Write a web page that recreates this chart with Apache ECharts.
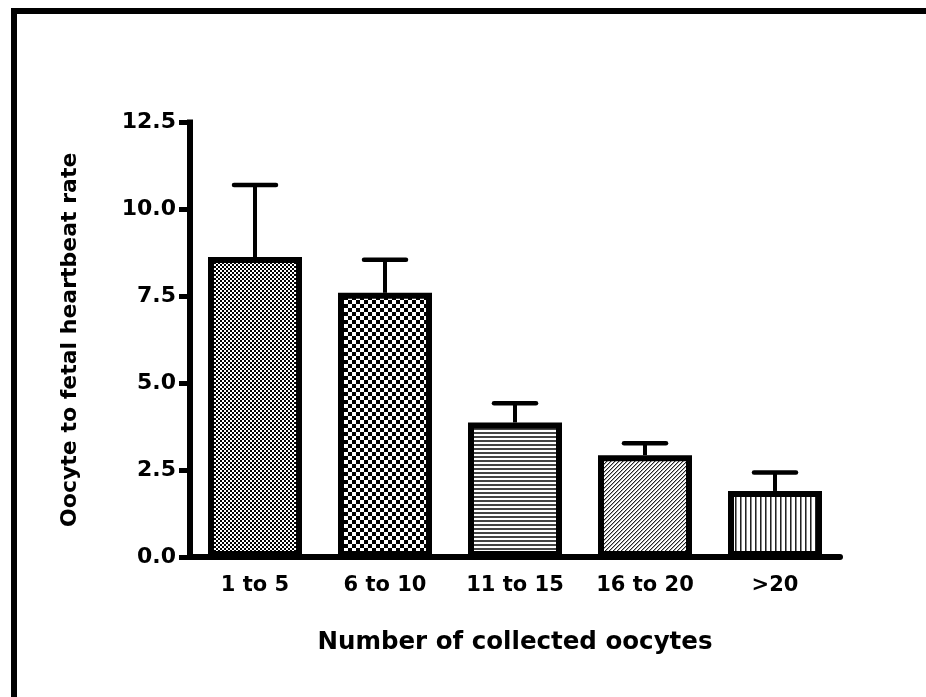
<!DOCTYPE html>
<html><head><meta charset="utf-8">
<script src="https://cdn.jsdelivr.net/npm/echarts@6/dist/echarts.min.js"></script>
<style>html,body{margin:0;padding:0;background:#fff}#c{width:926px;height:697px}</style>
</head><body><div id="c"></div>
<script>
const categories = ['1 to 5', '6 to 10', '11 to 15', '16 to 20', '>20'];
const means = [8.63, 7.6, 3.87, 2.93, 1.9];
const errors = [2.07, 0.95, 0.55, 0.34, 0.53];
const yTicks = [0, 2.5, 5, 7.5, 10, 12.5];
const yTitle = 'Oocyte to fetal heartbeat rate';
const xTitle = 'Number of collected oocytes';

const FONT = '"DejaVu Sans", sans-serif';

function makePattern(w, h, draw) {
  const c = document.createElement('canvas');
  c.width = w; c.height = h;
  const g = c.getContext('2d');
  g.fillStyle = '#fff'; g.fillRect(0, 0, w, h);
  draw(g);
  return { image: c, repeat: 'repeat' };
}
const patterns = [
  makePattern(4, 4, g => { g.fillStyle = '#000'; g.fillRect(0, 0, 2, 2); g.fillRect(2, 2, 2, 2); }),
  makePattern(8, 8, g => { g.fillStyle = '#000'; g.fillRect(0, 0, 4, 4); g.fillRect(4, 4, 4, 4); }),
  makePattern(1, 4, g => { g.fillStyle = '#444'; g.fillRect(0, 0, 1, 2); }),
  makePattern(4, 4, g => {
    g.fillStyle = '#222'; for (let i = 0; i < 4; i++) g.fillRect(3 - i, i, 1, 1);
    g.fillStyle = '#aaa'; for (let i = 0; i < 4; i++) g.fillRect((4 - i) % 4, i, 1, 1);
  }),
  makePattern(5, 1, g => { g.fillStyle = '#222'; g.fillRect(0, 0, 1, 1); g.fillStyle = '#888'; g.fillRect(1, 0, 1, 1); })
];

const chart = echarts.init(document.getElementById('c'), null, { renderer: 'canvas' });
chart.setOption({
  backgroundColor: '#fff',
  animation: false,
  graphic: [{
    type: 'rect', z: -10,
    shape: { x: 14, y: 11, width: 1200, height: 1200 },
    style: { fill: 'none', stroke: '#000', lineWidth: 6 }
  }],
  grid: { left: 190, right: 86, top: 122.5, bottom: 140 },
  xAxis: {
    type: 'category', data: categories,
    axisLine: { lineStyle: { color: '#000', width: 6 } },
    axisTick: { alignWithLabel: true, length: 11, lineStyle: { color: '#000', width: 5 } },
    axisLabel: { color: '#000', fontFamily: FONT, fontWeight: 'bold', fontSize: 21, margin: 18 },
    name: xTitle, nameLocation: 'middle', nameGap: 73,
    nameTextStyle: { color: '#000', fontFamily: FONT, fontWeight: 'bold', fontSize: 24.5 }
  },
  yAxis: {
    type: 'value', min: yTicks[0], max: yTicks[yTicks.length - 1], interval: yTicks[1] - yTicks[0],
    splitLine: { show: false },
    axisLine: { show: true, lineStyle: { color: '#000', width: 6, cap: 'square' } },
    axisTick: { show: true, length: 11, lineStyle: { color: '#000', width: 5 } },
    axisLabel: { color: '#000', fontFamily: FONT, fontWeight: 'bold', fontSize: 22, margin: 14,
      formatter: v => v.toFixed(1) },
    name: yTitle, nameLocation: 'middle', nameGap: 109,
    nameTextStyle: { color: '#000', fontFamily: FONT, fontWeight: 'bold', fontSize: 22 }
  },
  series: [{
    type: 'bar', barWidth: 94, z: 2,
    data: means.map((m, i) => ({ value: m, itemStyle: { color: patterns[i] } })),
    itemStyle: { borderColor: '#000', borderWidth: 6 }
  }, {
    type: 'custom', z: 3,
    data: means.map((m, i) => [i, m, m + errors[i]]),
    encode: { x: 0, y: [1, 2] },
    renderItem: (params, api) => {
      const x = api.value(0);
      const p0 = api.coord([x, api.value(1)]);
      const p1 = api.coord([x, api.value(2)]);
      const half = 21;
      return { type: 'group', children: [
        { type: 'line', shape: { x1: p0[0], y1: p0[1], x2: p1[0], y2: p1[1] }, style: { stroke: '#000', lineWidth: 4 } },
        { type: 'line', shape: { x1: p1[0] - half, y1: p1[1], x2: p1[0] + half, y2: p1[1] }, style: { stroke: '#000', lineWidth: 4.5, lineCap: 'round' } }
      ] };
    }
  }]
});
</script></body></html>
